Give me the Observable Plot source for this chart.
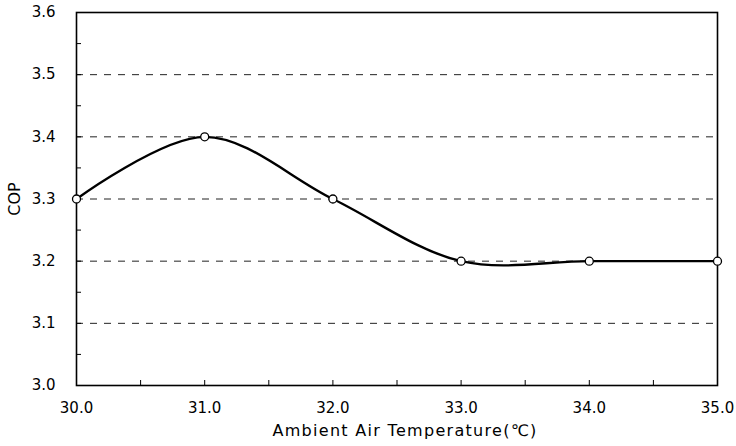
<!DOCTYPE html>
<html>
<head>
<meta charset="utf-8">
<script src="https://cdn.jsdelivr.net/npm/d3@7"></script>
<script src="https://cdn.jsdelivr.net/npm/@observablehq/plot@0.6"></script>
<style>
  body { margin: 0; background: #fff; }
</style>
</head>
<body>
<div id="chart"></div>
<script>
const temperature = [30.0, 31.0, 32.0, 33.0, 34.0, 35.0];
const cop = [3.3, 3.4, 3.3, 3.2, 3.2, 3.2];
const yTicks = [3.0, 3.1, 3.2, 3.3, 3.4, 3.5, 3.6];
const yGrid = [3.1, 3.2, 3.3, 3.4, 3.5];
const xTicks = [30, 31, 32, 33, 34, 35];
const xMinor = [30.5, 31, 31.5, 32, 32.5, 33, 33.5, 34, 34.5];
const yMinor = [3.05, 3.1, 3.15, 3.2, 3.25, 3.3, 3.35, 3.4, 3.45, 3.5, 3.55];
const xTitle = "Ambient Air Temperature(℃)";
const yTitle = "COP";

const data = temperature.map((t, i) => ({t, cop: cop[i]}));
const font = "'DejaVu Sans', Verdana, sans-serif";

const chart = Plot.plot({
  width: 736,
  height: 446,
  marginLeft: 76,
  marginRight: 19,
  marginTop: 12,
  marginBottom: 61,
  style: {fontSize: "15px", fontFamily: font, color: "#000", background: "#fff"},
  x: {domain: [30, 35]},
  y: {domain: [3.0, 3.6]},
  marks: [
    Plot.ruleY(yGrid, {stroke: "#222", strokeWidth: 1, strokeDasharray: "7,7"}),
    Plot.axisX(xTicks, {tickSize: 0, tickPadding: 17, fontSize: 15, fill: "#000", tickFormat: d3.format(".1f"), label: null}),
    Plot.axisY(yTicks, {tickSize: 0, tickPadding: 21, fontSize: 15, fill: "#000", tickFormat: d3.format(".1f"), label: null}),
    Plot.axisX(xMinor, {tickSize: -5, tickFormat: () => "", label: null}),
    Plot.axisY(yMinor, {tickSize: -5, tickFormat: () => "", label: null}),
    Plot.text([xTitle], {frameAnchor: "bottom", dy: 50, dx: 8, fontSize: 16, fill: "#000", text: d => d}),
    Plot.text([yTitle], {frameAnchor: "left", textAnchor: "middle", dx: -62, rotate: -90, fontSize: 16, fill: "#000", text: d => d}),
    Plot.frame({stroke: "#000", strokeWidth: 1.6}),
    Plot.line(data, {x: "t", y: "cop", curve: "catmull-rom", stroke: "#000", strokeWidth: 2.4}),
    Plot.dot(data, {x: "t", y: "cop", r: 4, fill: "#fff", stroke: "#000", strokeWidth: 1.3})
  ]
});
d3.select(chart).selectAll("text").filter(function() { return this.textContent === xTitle; })
  .attr("letter-spacing", "1.3px");
document.getElementById("chart").appendChild(chart);
</script>
</body>
</html>
